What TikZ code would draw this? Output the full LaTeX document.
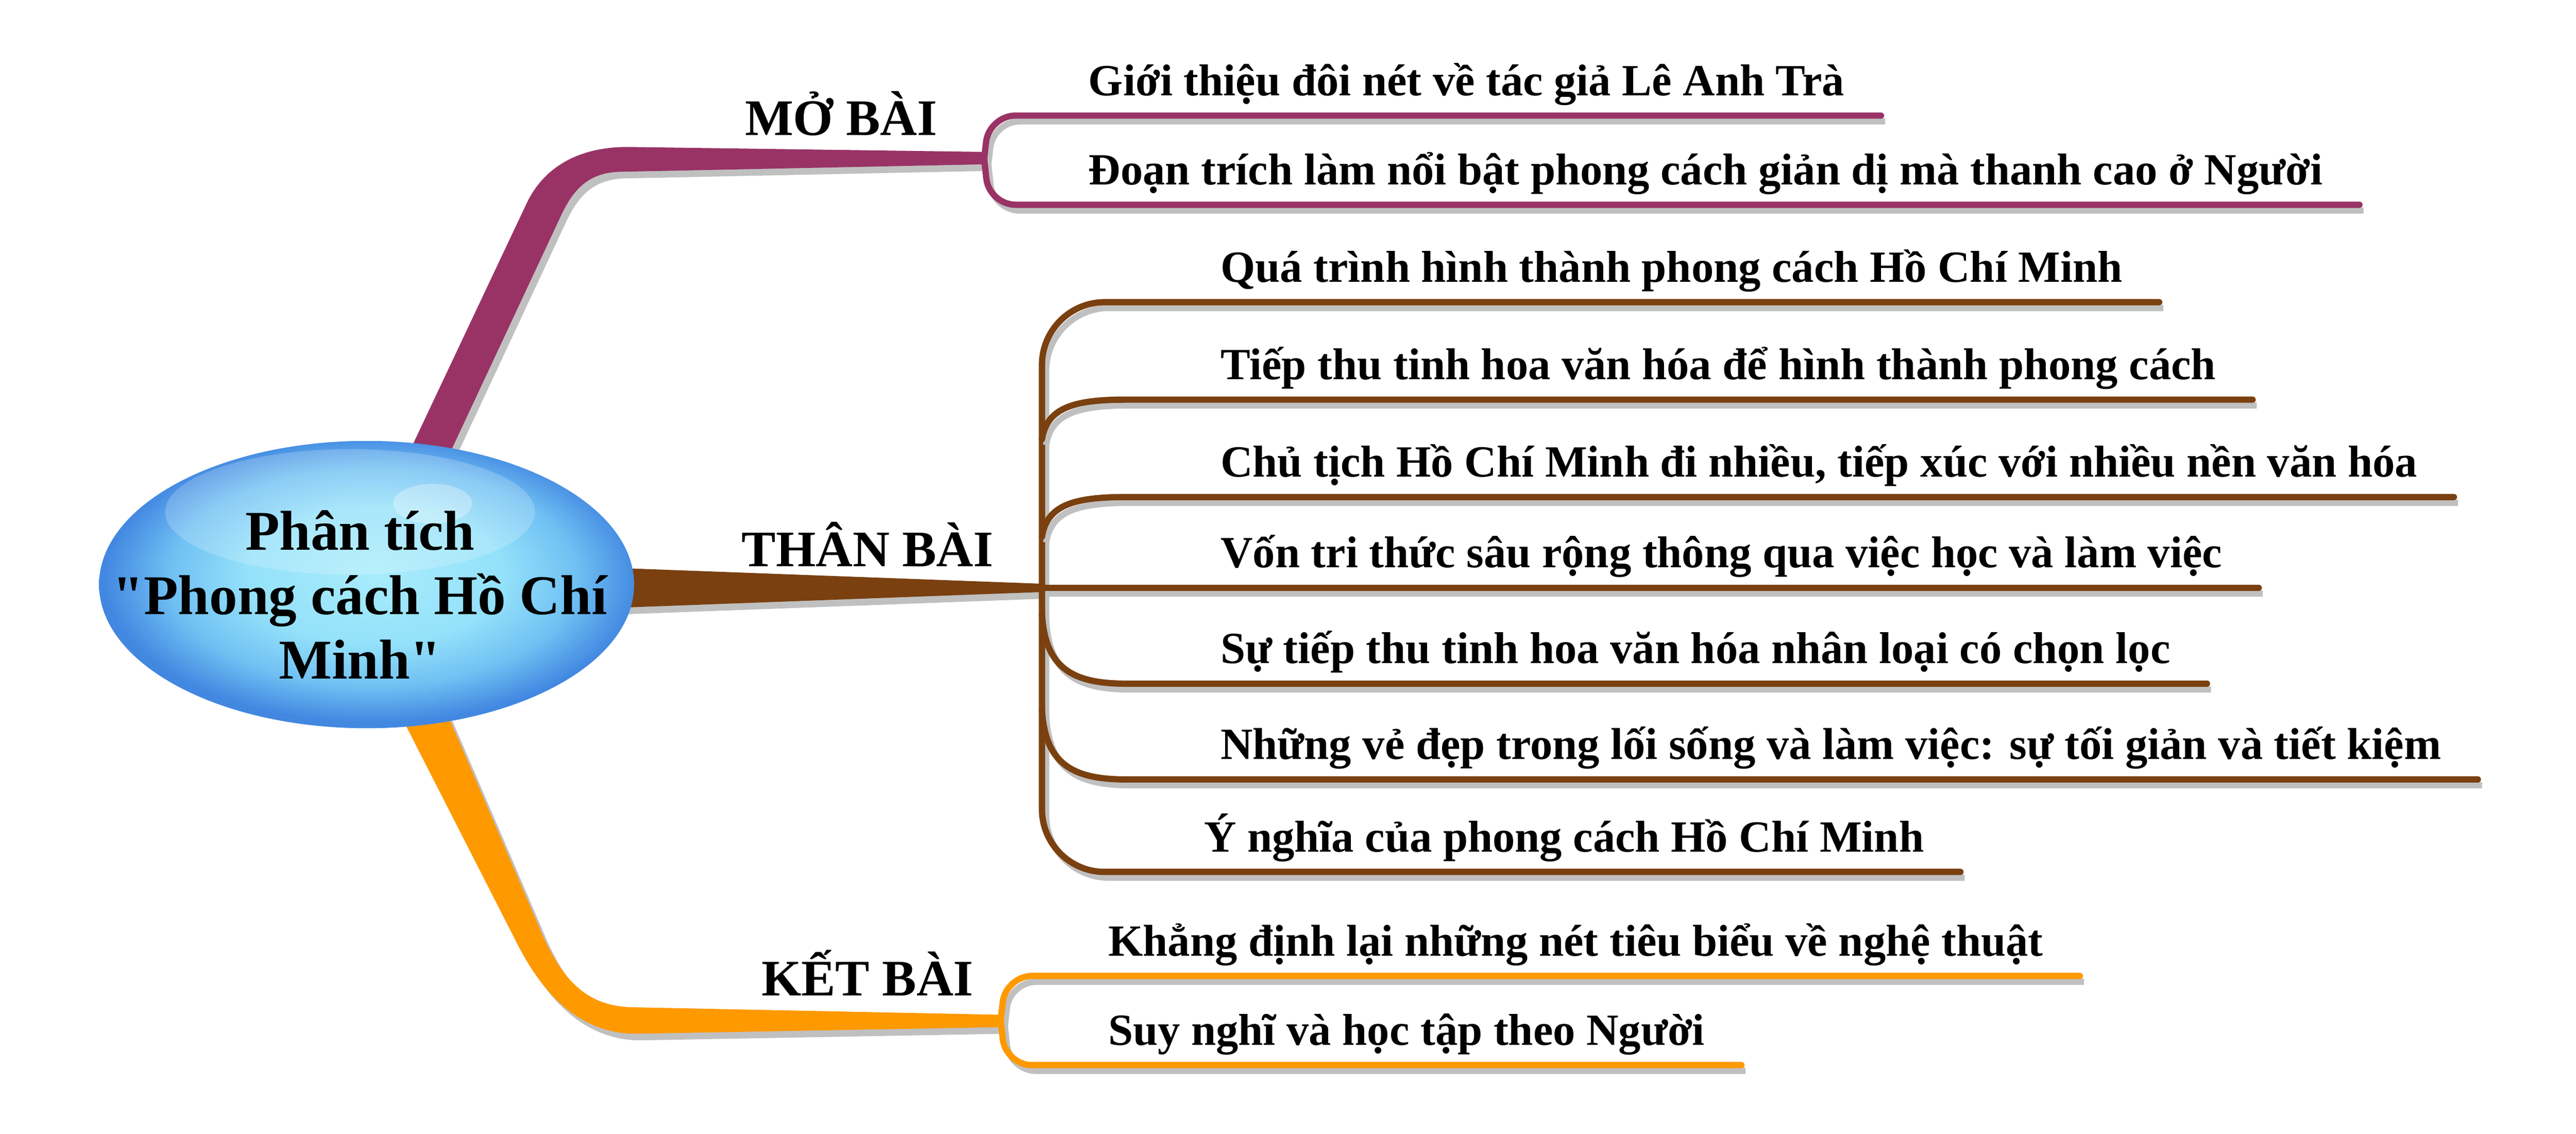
\documentclass[tikz,border=0pt]{standalone}
\usepackage{fontspec}
\setmainfont{Liberation Serif}[Ligatures=TeXOff]
\definecolor{mbcol}{RGB}{153,51,102}
\definecolor{tbcol}{RGB}{122,64,16}
\definecolor{kbcol}{RGB}{255,153,0}
\definecolor{shadecol}{RGB}{192,192,192}
\definecolor{bubblein}{RGB}{168,236,252}
\definecolor{bubblemid}{RGB}{148,225,250}
\definecolor{bubblerim}{RGB}{112,192,243}
\definecolor{bubbleout}{RGB}{66,136,225}
\pgfdeclareradialshading{bubble}{\pgfpoint{1bp}{2bp}}{color(0bp)=(bubblein); color(12bp)=(bubblemid); color(19bp)=(bubblerim); color(25bp)=(bubbleout); color(50bp)=(bubbleout)}
\tikzset{
  twig/.style={line width=3.8pt, line cap=round,
    preaction={draw=shadecol, line width=3.8pt, transform canvas={xshift=2.5pt, yshift=-3.5pt}}},
  bough/.style={preaction={fill=shadecol, transform canvas={xshift=3pt, yshift=-4pt}}},
  leaf/.style={font=\bfseries\fontsize{27}{32}\selectfont, anchor=south west,
    inner xsep=22pt, inner ysep=12pt, text depth=0pt},
  bigword/.style={font=\bfseries\fontsize{31}{36}\selectfont, anchor=base west, inner sep=0pt},
  rootword/.style={font=\bfseries\fontsize{34}{39}\selectfont, align=center, inner sep=0pt}
}
\begin{document}
\begin{tikzpicture}[x=1pt, y=-1pt]
    \useasboundingbox (0,0) rectangle (1560,686.7);

    % diem re nhanh
    \coordinate (mbfork) at (596,96);
    \coordinate (tbfork) at (631,356);
    \coordinate (kbfork) at (606,618);

    % nhanh chinh
    \fill[bough, mbcol] (243,284) -- (319,123) .. controls (330,100) and (352,89) .. (380,89)
        -- ([yshift=4pt]mbfork) -- ([yshift=-3.5pt]mbfork)
        -- (377,104) .. controls (358,104) and (348,113) .. (340,130) -- (267,286) -- cycle;
    \fill[bough, tbcol] (375,344) -- ([yshift=2.5pt]tbfork) -- ([yshift=-2.5pt]tbfork) -- (375,368) -- cycle;
    \fill[bough, kbcol] (269,428) -- (325,558) .. controls (340,595) and (356,610) .. (385,610)
        -- ([yshift=3.5pt]kbfork) -- ([yshift=-4pt]kbfork)
        -- (385,626) .. controls (350,626) and (328,600) .. (314,573) -- (240,428) -- cycle;

    % qua cau o giua
    \shade[shading=bubble] (222,354) ellipse (162 and 87);
    \fill[white, opacity=.2] (212,310) ellipse (112 and 38);
    \fill[white, opacity=.3] (262,305) ellipse (24 and 12);
    \node[rootword] (root) at (218,360) {Phân tích\\"Phong cách Hồ Chí\\Minh"};

    % ten nhanh
    \node[bigword] (mb) at (451,82) {MỞ BÀI};
    \node[bigword] (tb) at (449,343) {THÂN BÀI};
    \node[bigword] (kb) at (461,603) {KẾT BÀI};

    % cac y
    \node[leaf] (mb1) at (637,70) {Giới thiệu đôi nét về tác giả Lê Anh Trà};
    \node[leaf] (mb2) at (637,124) {Đoạn trích làm nổi bật phong cách giản dị mà thanh cao ở Người};
    \node[leaf] (tb1) at (717,183) {Quá trình hình thành phong cách Hồ Chí Minh};
    \node[leaf] (tb2) at (717,242) {Tiếp thu tinh hoa văn hóa để hình thành phong cách};
    \node[leaf] (tb3) at (717,301) {Chủ tịch Hồ Chí Minh đi nhiều, tiếp xúc với nhiều nền văn hóa};
    \node[leaf] (tb4) at (717,356) {Vốn tri thức sâu rộng thông qua việc học và làm việc};
    \node[leaf] (tb5) at (717,414) {Sự tiếp thu tinh hoa văn hóa nhân loại có chọn lọc};
    \node[leaf] (tb6) at (717,472) {Những vẻ đẹp trong lối sống và làm việc: sự tối giản và tiết kiệm};
    \node[leaf] (tb7) at (707,528) {Ý nghĩa của phong cách Hồ Chí Minh};
    \node[leaf] (kb1) at (649,591) {Khẳng định lại những nét tiêu biểu về nghệ thuật};
    \node[leaf] (kb2) at (649,645) {Suy nghĩ và học tập theo Người};

    % nhanh con
    \draw[twig, mbcol, rounded corners=16pt] (mbfork) -- (599,70) -- (mb1.south east);
    \draw[twig, mbcol, rounded corners=16pt] (mbfork) -- (599,124) -- (mb2.south east);

    \coordinate (tbj2) at (631,266);
    \coordinate (tbj3) at (631,325);
    \coordinate (tbj5) at (631,372);
    \coordinate (tbj6) at (631,430);
    \draw[twig, tbcol, rounded corners=38pt] (tb1.south east) -- (631,183) -- (631,528) -- (tb7.south east);
    \draw[twig, tbcol] (tbj2) .. controls (634,247) and (650,242) .. (682,242) -- (tb2.south east);
    \draw[twig, tbcol] (tbj3) .. controls (634,306) and (650,301) .. (682,301) -- (tb3.south east);
    \draw[twig, tbcol] (tbfork) -- (tb4.south east);
    \draw[twig, tbcol] (tbj5) .. controls (633,405) and (650,414) .. (682,414) -- (tb5.south east);
    \draw[twig, tbcol] (tbj6) .. controls (633,463) and (650,472) .. (682,472) -- (tb6.south east);

    \draw[twig, kbcol, rounded corners=16pt] (kbfork) -- (609,591) -- (kb1.south east);
    \draw[twig, kbcol, rounded corners=16pt] (kbfork) -- (609,645) -- (kb2.south east);
\end{tikzpicture}
\end{document}
